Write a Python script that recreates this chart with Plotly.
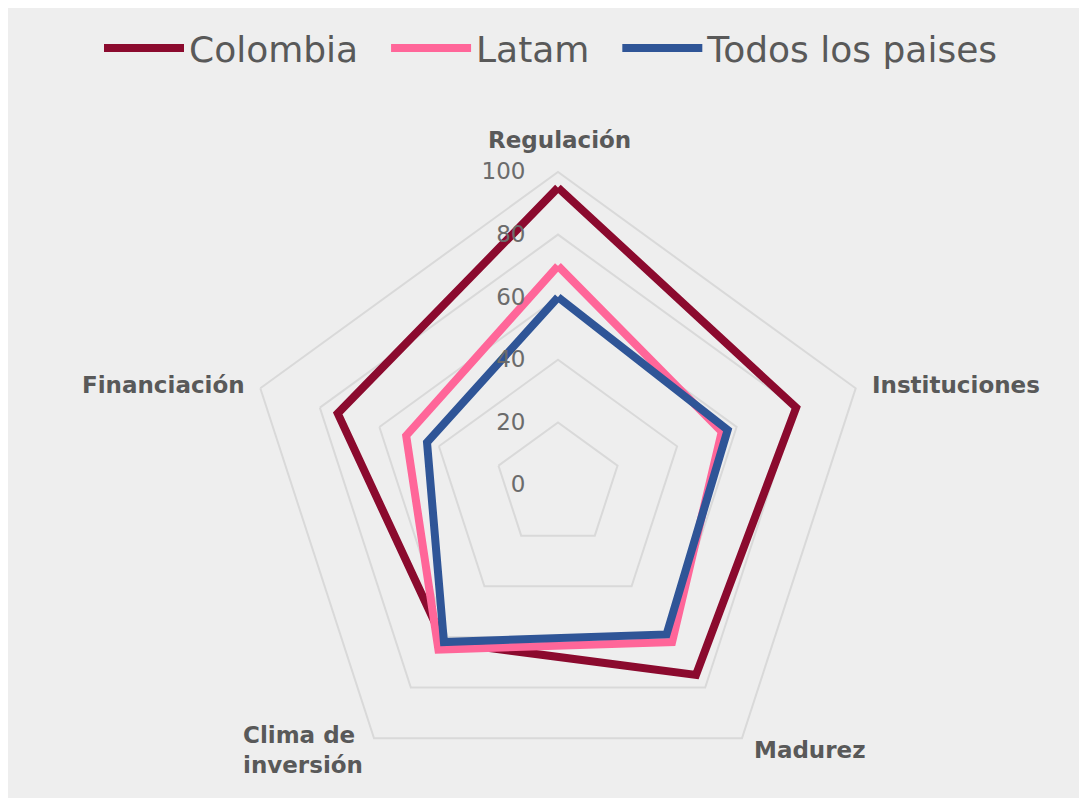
import math
import plotly.graph_objects as go

categories = ["Regulación", "Instituciones", "Madurez", "Clima de<br>inversión", "Financiación"]
colombia = [95, 80, 75, 62, 74]
latam = [70, 55, 62, 65, 51]
todos = [60, 57, 59, 62, 44]
tick_vals = [0, 20, 40, 60, 80, 100]
tick_text = ["0", "20", "40", "60", "80", "100"]
series_names = ["Colombia", "Latam", "Todos los paises"]

colors = ["#8B0A2E", "#FF6699", "#2F5597"]
pads = ["\u00a0\u00a0", "\u00a0\u00a0", ""]

W, H = 1087, 798
cx, cy, R = 550, 477, 313

fig = go.Figure()
for name, vals, color, pad in zip(series_names, [colombia, latam, todos], colors, pads):
    fig.add_trace(go.Scatterpolar(
        r=vals + [vals[0]],
        theta=categories + [categories[0]],
        mode="lines",
        name=name + pad,
        line=dict(color=color, width=8),
    ))

# category labels placed just outside the outer polygon vertices
label_style = [
    # (dx, dy offset from vertex in px, xanchor, yanchor, align)
    (1, -32, "center", "middle", "center"),
    (14, -3, "left", "middle", "left"),
    (10, 12, "left", "middle", "left"),
    (-9, 12, "right", "middle", "left"),
    (-13, -3, "right", "middle", "right"),
]
annotations = []
n = len(categories)
for i, (cat, (dx, dy, xa, ya, al)) in enumerate(zip(categories, label_style)):
    ang = math.radians(90 - 360 * i / n)
    vx = cx + R * math.cos(ang) + dx
    vy = cy - R * math.sin(ang) + dy
    annotations.append(dict(
        text=cat, x=vx / W, y=1 - vy / H, xref="paper", yref="paper",
        xanchor=xa, yanchor=ya, align=al, showarrow=False,
        font=dict(size=23, color="#595959", family="DejaVu Sans", weight="bold"),
    ))

fig.update_layout(
    width=W, height=H,
    margin=dict(l=0, r=0, t=0, b=0),
    paper_bgcolor="#EEEEEE",
    plot_bgcolor="#EEEEEE",
    font=dict(family="DejaVu Sans", color="#595959"),
    annotations=annotations,
    polar=dict(
        bgcolor="rgba(0,0,0,0)",
        gridshape="linear",
        domain=dict(x=[(cx - R) / W, (cx + R) / W],
                    y=[(H - cy - R) / H, (H - cy + R) / H]),
        radialaxis=dict(
            range=[0, 100],
            tickvals=tick_vals,
            ticktext=tick_text,
            angle=90,
            tickangle=90,
            side="counterclockwise",
            showline=False,
            ticks="outside",
            ticklen=24,
            tickcolor="rgba(0,0,0,0)",
            gridcolor="#D9D9D9",
            gridwidth=2,
            tickfont=dict(size=23, color="#6B6B6B", family="DejaVu Sans"),
        ),
        angularaxis=dict(
            rotation=90,
            direction="clockwise",
            showline=True,
            linecolor="#D9D9D9",
            linewidth=2,
            showgrid=False,
            ticks="",
            showticklabels=False,
        ),
    ),
    legend=dict(
        orientation="h",
        x=0.5, xanchor="center",
        y=1 - 10 / H, yanchor="top",
        font=dict(size=36, color="#595959", family="DejaVu Sans"),
        itemwidth=80,
        bgcolor="rgba(0,0,0,0)",
        traceorder="normal",
    ),
    showlegend=True,
)

fig.write_html("out.html")
